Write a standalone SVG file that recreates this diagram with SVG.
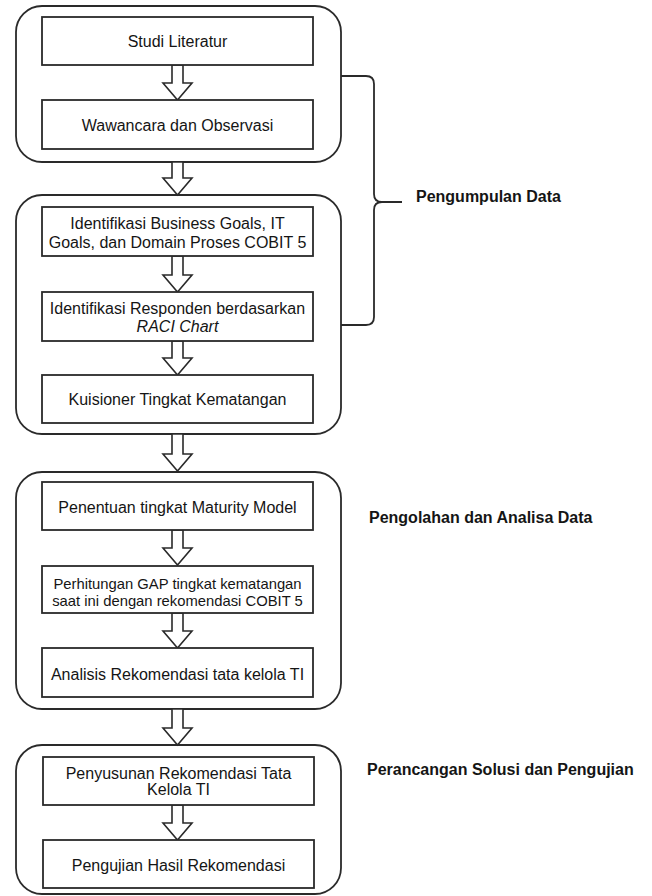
<svg xmlns="http://www.w3.org/2000/svg" width="652" height="896" viewBox="0 0 652 896">
<style>
.grp{fill:none;stroke:#2a2a2a;stroke-width:1.8}
.box{fill:#fff;stroke:#2a2a2a;stroke-width:1.8}
.t{font-family:"Liberation Sans",Arial,sans-serif;font-size:16px;fill:#151515;text-anchor:middle}
.t15{font-size:14.8px}
.lbl{font-family:"Liberation Sans",Arial,sans-serif;font-size:16px;font-weight:bold;fill:#151515}
.arr{fill:#fff;stroke:#2a2a2a;stroke-width:1.6;stroke-linejoin:miter}
.br{fill:none;stroke:#2a2a2a;stroke-width:1.8}
</style>
<rect width="652" height="896" fill="#fff"/>
<g id="group1"><rect class="grp" x="16" y="6" width="325" height="156" rx="26"/></g>
<g id="group2"><rect class="grp" x="16" y="195" width="325" height="239" rx="26"/></g>
<g id="group3"><rect class="grp" x="16" y="472" width="325" height="237" rx="26"/></g>
<g id="group4"><rect class="grp" x="16" y="745" width="325" height="149" rx="26"/></g>

<g id="connectors">
<path class="arr" d="M172,65 V83 H163 L177.5,100 L192,83 H183 V65 Z"/>
<path class="arr" d="M172,162 V178 H163 L177.5,195 L192,178 H183 V162 Z"/>
<path class="arr" d="M172,256 V275 H163 L177.5,292 L192,275 H183 V256 Z"/>
<path class="arr" d="M172,341 V358 H163 L177.5,375 L192,358 H183 V341 Z"/>
<path class="arr" d="M172,434 V454 H163 L177.5,471 L192,454 H183 V434 Z"/>
<path class="arr" d="M172,530 V548 H163 L177.5,565 L192,548 H183 V530 Z"/>
<path class="arr" d="M172,613 V631 H163 L177.5,648 L192,631 H183 V613 Z"/>
<path class="arr" d="M172,709 V728 H163 L177.5,745 L192,728 H183 V709 Z"/>
<path class="arr" d="M172,805 V823 H163 L177.5,840 L192,823 H183 V805 Z"/>
<path class="br" d="M341,76 H366 Q374,76 374,84 V194 Q374,202 382,202 H402 M382,202 Q374,202 374,210 V317 Q374,325 366,325 H341"/>
</g>

<g id="n1"><rect class="box" x="42" y="17" width="271" height="48"/><text class="t" x="177.5" y="47">Studi Literatur</text></g>
<g id="n2"><rect class="box" x="42" y="100" width="271" height="49"/><text class="t" x="177.5" y="131">Wawancara dan Observasi</text></g>
<g id="n3"><rect class="box" x="42" y="207" width="271" height="49"/><text class="t" x="177.5" y="229">Identifikasi Business Goals, IT</text><text class="t" x="177.5" y="248">Goals, dan Domain Proses COBIT 5</text></g>
<g id="n4"><rect class="box" x="42" y="292" width="271" height="49"/><text class="t" x="177.5" y="314">Identifikasi Responden berdasarkan</text><text class="t" x="177.5" y="332" font-style="italic">RACI Chart</text></g>
<g id="n5"><rect class="box" x="42" y="375" width="271" height="48"/><text class="t" x="177.5" y="405">Kuisioner Tingkat Kematangan</text></g>
<g id="n6"><rect class="box" x="42" y="482" width="271" height="48"/><text class="t" x="177.5" y="513">Penentuan tingkat Maturity Model</text></g>
<g id="n7"><rect class="box" x="42" y="566" width="271" height="47"/><text class="t t15" x="177.5" y="589">Perhitungan GAP tingkat kematangan</text><text class="t t15" x="177.5" y="606">saat ini dengan rekomendasi COBIT 5</text></g>
<g id="n8"><rect class="box" x="42" y="648" width="271" height="49"/><text class="t" x="177.5" y="680">Analisis Rekomendasi tata kelola TI</text></g>
<g id="n9"><rect class="box" x="43" y="757" width="271" height="48"/><text class="t" x="178.5" y="779">Penyusunan Rekomendasi Tata</text><text class="t" x="178.5" y="795">Kelola TI</text></g>
<g id="n10"><rect class="box" x="43" y="840" width="271" height="48"/><text class="t" x="178.5" y="871">Pengujian Hasil Rekomendasi</text></g>

<g id="labels">
<text class="lbl" x="416" y="202">Pengumpulan Data</text>
<text class="lbl" x="369" y="523">Pengolahan dan Analisa Data</text>
<text class="lbl" x="367" y="775">Perancangan Solusi dan Pengujian</text>
</g>
</svg>
